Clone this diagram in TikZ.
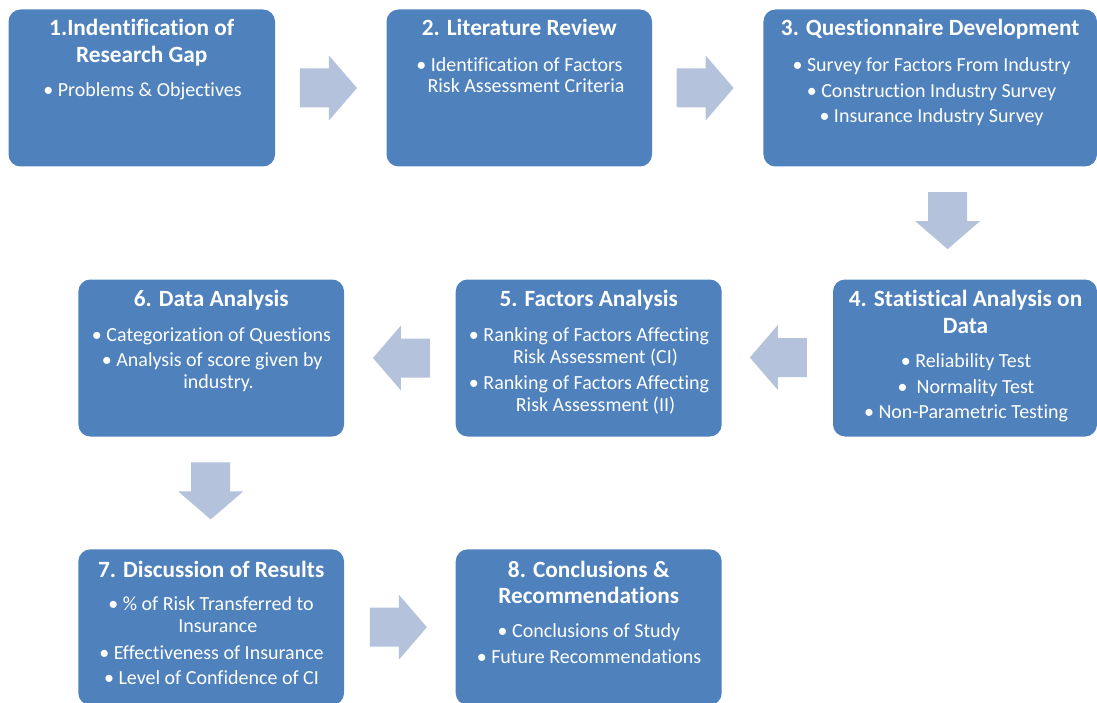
\documentclass[tikz,border=0pt]{standalone}
\usepackage{fontspec}
\setmainfont[Ligatures=NoCommon]{Carlito}
\usetikzlibrary{calc}
\definecolor{boxblue}{RGB}{79,129,189}
\definecolor{arrowblue}{RGB}{180,194,220}
\tikzset{
  stage/.style={fill=boxblue, draw=none, rounded corners=12pt, inner sep=0pt},
  ttl/.style={anchor=base, text=white, inner sep=0pt, font=\fontsize{23.3}{27}\selectfont\bfseries},
  itm/.style={anchor=base, text=white, inner sep=0pt, font=\fontsize{20}{22}\selectfont},
  flow/.pic={\fill[arrowblue] (-28.5,-19.5) -- (0.5,-19.5) -- (0.5,-32.5) -- (28.5,0)
             -- (0.5,32.5) -- (0.5,19.5) -- (-28.5,19.5) -- cycle;}
}
\begin{document}
\begin{tikzpicture}[x=1pt,y=-1pt]
\useasboundingbox (0,0) rectangle (1097,703);

% stage boxes
\node[stage, minimum width=266.5pt, minimum height=157pt] (b1) at (141.75,88) {};
\node[stage, minimum width=265.5pt, minimum height=157pt] (b2) at (519.25,88) {};
\node[stage, minimum width=333.5pt, minimum height=157pt] (b3) at (930.2,88) {};
\node[stage, minimum width=264pt,   minimum height=157pt] (b4) at (965,358) {};
\node[stage, minimum width=266pt,   minimum height=157pt] (b5) at (588.7,358) {};
\node[stage, minimum width=265.7pt, minimum height=157pt] (b6) at (211.2,358) {};
\node[stage, minimum width=265.7pt, minimum height=155.7pt] (b7) at (211.2,627.2) {};
\node[stage, minimum width=266pt,   minimum height=155.7pt] (b8) at (588.7,627.2) {};

% block arrows between the stages
\pic (a12) at ($(b1.east)!0.5!(b2.west)+(-2.3,0)$) {flow};
\pic (a23) at ($(b2.east)!0.5!(b3.west)+(-2.6,0)$) {flow};
\pic[rotate=-90] (a34) at ($(b3.south)!0.5!(b4.north)+(0,-2.4)$) {flow};
\pic[rotate=180] (a45) at ($(b5.east)!0.5!(b4.west)+(1,-0.5)$) {flow};
\pic[rotate=180] (a56) at ($(b6.east)!0.5!(b5.west)+(1.6,0)$) {flow};
\pic[rotate=-90] (a67) at ($(b6.south)!0.5!(b7.north)+(-0.5,-2)$) {flow};
\pic (a78) at ($(b7.east)!0.5!(b8.west)+(-1.5,0)$) {flow};

% 1
\node[ttl] (t1a) at (141.75,36) {1.Indentification of};
\node[ttl] (t1b) at (141.75,63) {Research Gap};
\node[itm] (i1a) at (142.5,97) {• Problems \& Objectives};

% 2
\node[ttl] (t2a) at (519.25,36) {2. Literature Review};
\node[itm] (i2a) at (519.5,72) {• Identification of Factors};
\node[itm] (i2b) at (526,93) {Risk Assessment Criteria};

% 3
\node[ttl] (t3a) at (930.2,36) {3. Questionnaire Development};
\node[itm] (i3a) at (931.5,72) {• Survey for Factors From Industry};
\node[itm] (i3b) at (931.5,97.5) {• Construction Industry Survey};
\node[itm] (i3c) at (931.5,123) {• Insurance Industry Survey};

% 4
\node[ttl] (t4a) at (965.5,306) {4. Statistical Analysis on};
\node[ttl] (t4b) at (965.5,333) {Data};
\node[itm] (i4a) at (966,367) {• Reliability Test};
\node[itm] (i4b) at (966,393) {•\ \ Normality Test};
\node[itm] (i4c) at (966,418) {• Non-Parametric Testing};

% 5
\node[ttl] (t5a) at (588.7,306) {5. Factors Analysis};
\node[itm] (i5a) at (589,341.7) {• Ranking of Factors Affecting};
\node[itm] (i5b) at (595.5,363.3) {Risk Assessment (CI)};
\node[itm] (i5c) at (589,389.3) {• Ranking of Factors Affecting};
\node[itm] (i5d) at (595.5,411.7) {Risk Assessment (II)};

% 6
\node[ttl] (t6a) at (211.2,306) {6. Data Analysis};
\node[itm] (i6a) at (211.5,341.7) {• Categorization of Questions};
\node[itm] (i6b) at (212.2,366.7) {• Analysis of score given by};
\node[itm] (i6c) at (218.5,388.3) {industry.};

% 7
\node[ttl] (t7a) at (211.2,577) {7. Discussion of Results};
\node[itm] (i7a) at (211,610) {• \% of Risk Transferred to};
\node[itm] (i7b) at (217.8,632) {Insurance};
\node[itm] (i7c) at (211.5,659) {• Effectiveness of Insurance};
\node[itm] (i7d) at (211.5,684) {• Level of Confidence of CI};

% 8
\node[ttl] (t8a) at (588.7,577) {8. Conclusions \&};
\node[ttl] (t8b) at (588.7,603) {Recommendations};
\node[itm] (i8a) at (589,637) {• Conclusions of Study};
\node[itm] (i8b) at (589,663) {• Future Recommendations};
\end{tikzpicture}
\end{document}
